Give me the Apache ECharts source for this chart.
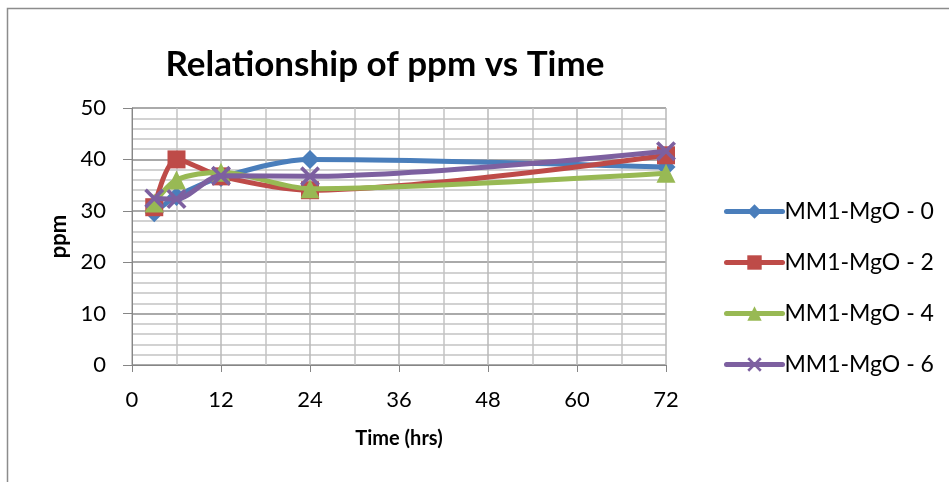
<!DOCTYPE html>
<html>
<head>
<meta charset="utf-8">
<script src="https://cdn.jsdelivr.net/npm/echarts@6/dist/echarts.min.js"></script>
<style>html,body{margin:0;padding:0;background:#fff;}#c{width:949px;height:482px;}</style>
</head>
<body>
<div id="c"></div>
<script>
var times = [3, 6, 12, 24, 72];
var seriesNames = ['MM1-MgO - 0', 'MM1-MgO - 2', 'MM1-MgO - 4', 'MM1-MgO - 6'];
var mgo0 = [29.6, 32.8, 36.5, 40.0, 38.5];
var mgo2 = [30.7, 40.0, 36.7, 34.0, 40.8];
var mgo4 = [31.5, 36.0, 37.5, 34.3, 37.3];
var mgo6 = [32.4, 32.3, 36.8, 36.7, 41.6];
var xTicks = [0, 12, 24, 36, 48, 60, 72];
var yTicks = [0, 10, 20, 30, 40, 50];

var FONT = 'Lato, "Open Sans", sans-serif';
var colors = ['#4A7EBB', '#BE4B48', '#98B954', '#7D60A0'];
var symbols = ['diamond', 'rect', 'triangle', 'path://M0,1.3L1.3,0L5,3.7L8.7,0L10,1.3L6.3,5L10,8.7L8.7,10L5,6.3L1.3,10L0,8.7L3.7,5Z'];
var sizes = [19, 18, 19, 20];
var vals = [mgo0, mgo2, mgo4, mgo6];

function pairs(v){ return times.map(function(t,i){ return [t, v[i]]; }); }

var series = vals.map(function(v, i){
  return {
    name: seriesNames[i], type: 'line', data: pairs(v), smooth: 0.3,
    symbol: symbols[i], symbolSize: sizes[i],
    lineStyle: {color: colors[i], width: 5, cap: 'round'},
    itemStyle: {color: colors[i]},
    z: 2 + i
  };
});

var chart = echarts.init(document.getElementById('c'), null, {renderer: 'canvas'});
chart.setOption({
  animation: false,
  backgroundColor: '#fff',
  color: colors,
  title: {
    text: 'Relationship of ppm vs Time', left: 380, top: 42, textAlign: 'center',
    textStyle: {fontFamily: FONT, fontSize: 35, fontWeight: 'bold', color: '#000'}
  },
  graphic: [{
    type: 'rect', shape: {x: 7.5, y: 8.5, width: 960, height: 500},
    style: {fill: 'none', stroke: '#8c8c8c', lineWidth: 1.5}, silent: true, z: -1
  }],
  grid: {left: 132, right: 283, top: 108, bottom: 117},
  xAxis: {
    type: 'value', min: xTicks[0], max: xTicks[xTicks.length-1], interval: 12,
    name: 'Time (hrs)', nameLocation: 'middle', nameGap: 64,
    nameTextStyle: {fontFamily: FONT, fontSize: 20, fontWeight: 'bold', color: '#000'},
    axisLine: {lineStyle: {color: '#868686', width: 1}},
    axisTick: {show: true, length: 7, lineStyle: {color: '#868686'}},
    axisLabel: {fontFamily: FONT, fontSize: 22, color: '#000', margin: 24},
    splitLine: {show: true, lineStyle: {color: '#b8b8b8', width: 1.5}},
    minorTick: {show: false, splitNumber: 2},
    minorSplitLine: {show: true, lineStyle: {color: '#c4c4c4', width: 1.5}}
  },
  yAxis: {
    type: 'value', min: yTicks[0], max: yTicks[yTicks.length-1], interval: 10,
    name: 'ppm', nameLocation: 'middle', nameGap: 60, nameRotate: 90,
    nameTextStyle: {fontFamily: FONT, fontSize: 22, fontWeight: 'bold', color: '#000'},
    axisLine: {show: true, lineStyle: {color: '#868686', width: 1}},
    axisTick: {show: true, length: 9, lineStyle: {color: '#868686'}},
    axisLabel: {fontFamily: FONT, fontSize: 22, color: '#000', margin: 26},
    splitLine: {show: true, lineStyle: {color: '#8e8e8e', width: 1.5}},
    minorTick: {show: false, splitNumber: 5},
    minorSplitLine: {show: true, lineStyle: {color: '#c4c4c4', width: 1.5}}
  },
  legend: {
    orient: 'vertical', left: 719, top: 195, itemGap: 28, itemWidth: 56, itemHeight: 18,
    lineStyle: {width: 5, cap: 'round'},
    textStyle: {fontFamily: FONT, fontSize: 23, color: '#000', padding: [0,0,0,-3]},
    data: seriesNames
  },
  series: series
});
</script>
</body>
</html>
